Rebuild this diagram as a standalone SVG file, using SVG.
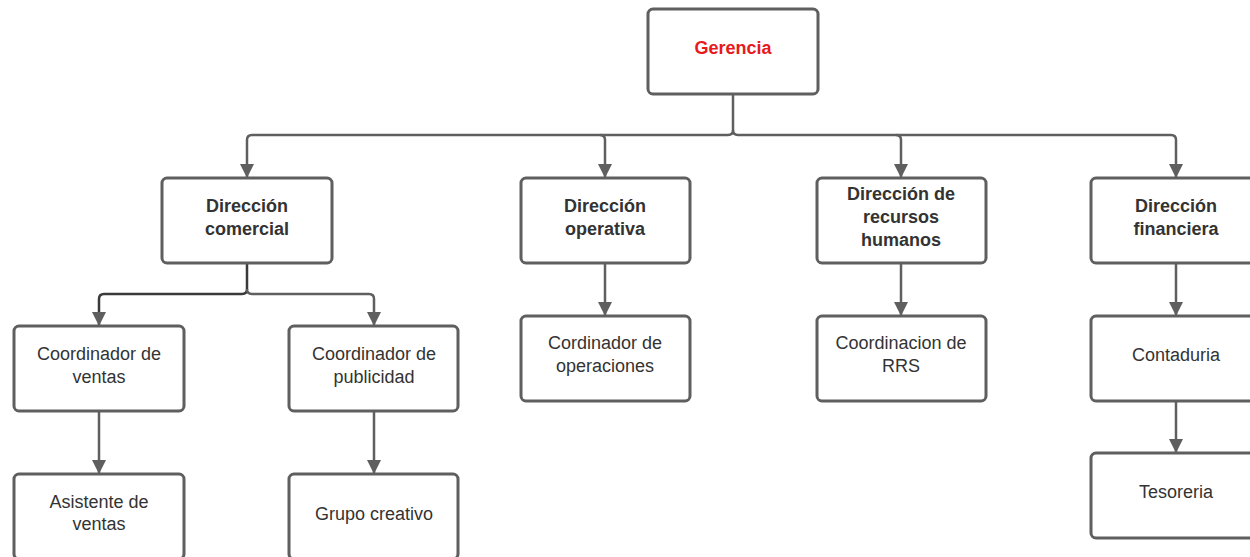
<svg xmlns="http://www.w3.org/2000/svg" width="1250" height="557" viewBox="0 0 1250 557">
  <style>
    .box { fill: #ffffff; stroke: #5f5f5f; stroke-width: 3; }
    .wire { fill: none; stroke: #5f5f5f; stroke-width: 2.5; }
    .t { font-family: "Liberation Sans", Arial, sans-serif; font-size: 18px; fill: #333333; text-anchor: middle; }
    .b { font-weight: bold; }
    .red { fill: #e8191d; }
  </style>
  <defs>
    <marker id="arrow" viewBox="0 0 14 17" refX="14" refY="8.5" markerWidth="14" markerHeight="17" markerUnits="userSpaceOnUse" orient="auto">
      <path d="M0,1.5 L14,8.5 L0,15.5 Z" fill="#5f5f5f"/>
    </marker>
  </defs>
  <rect width="1250" height="557" fill="#ffffff"/>

  <!-- connectors -->
  <g id="connectors">
    <!-- Gerencia to the four directions -->
    <path class="wire" d="M733,94 V130 Q733,135 728,135 H252 Q247,135 247,140 V178" marker-end="url(#arrow)"/>
    <path class="wire" d="M733,130 Q733,135 738,135 H1171 Q1176,135 1176,140 V178" marker-end="url(#arrow)"/>
    <path class="wire" d="M600,135 Q605,135 605,140 V178" marker-end="url(#arrow)"/>
    <path class="wire" d="M896,135 Q901,135 901,140 V178" marker-end="url(#arrow)"/>
    <!-- Dirección comercial to its coordinators -->
    <path class="wire" d="M247,263 V289 Q247,294 242,294 H104 Q99,294 99,299 V326" marker-end="url(#arrow)" style="stroke:#3a3a3a"/>
    <path class="wire" d="M247,289 Q247,294 252,294 H369 Q374,294 374,299 V326" marker-end="url(#arrow)"/>
    <!-- single chains -->
    <path class="wire" d="M605,263 V316" marker-end="url(#arrow)"/>
    <path class="wire" d="M901,263 V316" marker-end="url(#arrow)"/>
    <path class="wire" d="M1176,263 V316" marker-end="url(#arrow)"/>
    <path class="wire" d="M1176,401 V453" marker-end="url(#arrow)"/>
    <path class="wire" d="M99,411 V474" marker-end="url(#arrow)"/>
    <path class="wire" d="M374,411 V474" marker-end="url(#arrow)"/>
  </g>

  <g id="gerencia">
    <rect class="box" x="648" y="9" width="170" height="85" rx="5"/>
    <text class="t b red" x="733" y="54">Gerencia</text>
  </g>

  <g id="dir-comercial">
    <rect class="box" x="162" y="178" width="170" height="85" rx="5"/>
    <text class="t b" x="247" y="212">Dirección</text>
    <text class="t b" x="247" y="235">comercial</text>
  </g>

  <g id="dir-operativa">
    <rect class="box" x="521" y="178" width="169" height="85" rx="5"/>
    <text class="t b" x="605" y="212">Dirección</text>
    <text class="t b" x="605" y="235">operativa</text>
  </g>

  <g id="dir-rrhh">
    <rect class="box" x="817" y="178" width="169" height="85" rx="5"/>
    <text class="t b" x="901" y="200">Dirección de</text>
    <text class="t b" x="901" y="223">recursos</text>
    <text class="t b" x="901" y="246">humanos</text>
  </g>

  <g id="dir-financiera">
    <rect class="box" x="1091" y="178" width="170" height="85" rx="5"/>
    <text class="t b" x="1176" y="212">Dirección</text>
    <text class="t b" x="1176" y="235">financiera</text>
  </g>

  <g id="coord-ventas">
    <rect class="box" x="14" y="326" width="170" height="85" rx="5"/>
    <text class="t" x="99" y="360">Coordinador de</text>
    <text class="t" x="99" y="383">ventas</text>
  </g>

  <g id="coord-publicidad">
    <rect class="box" x="289" y="326" width="169" height="85" rx="5"/>
    <text class="t" x="374" y="360">Coordinador de</text>
    <text class="t" x="374" y="383">publicidad</text>
  </g>

  <g id="coord-operaciones">
    <rect class="box" x="521" y="316" width="169" height="85" rx="5"/>
    <text class="t" x="605" y="349">Cordinador de</text>
    <text class="t" x="605" y="372">operaciones</text>
  </g>

  <g id="coord-rrs">
    <rect class="box" x="817" y="316" width="169" height="85" rx="5"/>
    <text class="t" x="901" y="349">Coordinacion de</text>
    <text class="t" x="901" y="372">RRS</text>
  </g>

  <g id="contaduria">
    <rect class="box" x="1091" y="316" width="170" height="85" rx="5"/>
    <text class="t" x="1176" y="361">Contaduria</text>
  </g>

  <g id="asistente-ventas">
    <rect class="box" x="14" y="474" width="170" height="85" rx="5"/>
    <text class="t" x="99" y="508">Asistente de</text>
    <text class="t" x="99" y="530">ventas</text>
  </g>

  <g id="grupo-creativo">
    <rect class="box" x="289" y="474" width="169" height="85" rx="5"/>
    <text class="t" x="374" y="520">Grupo creativo</text>
  </g>

  <g id="tesoreria">
    <rect class="box" x="1091" y="453" width="170" height="85" rx="5"/>
    <text class="t" x="1176" y="498">Tesoreria</text>
  </g>
</svg>
